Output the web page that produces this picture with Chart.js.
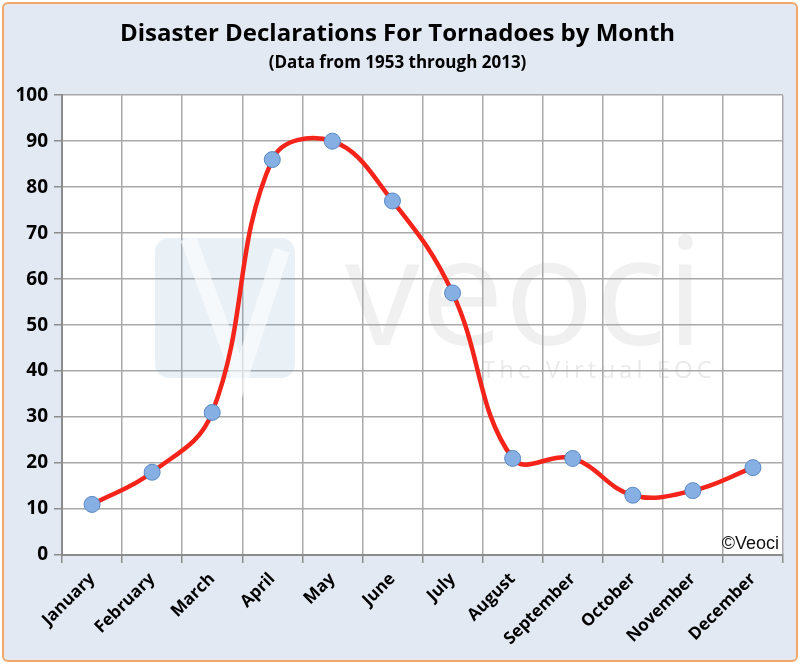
<!DOCTYPE html>
<html>
<head>
<meta charset="utf-8">
<script src="https://cdn.jsdelivr.net/npm/chart.js@4/dist/chart.umd.min.js"></script>
<style>
    html, body { margin: 0; padding: 0; background: #ffffff; }
    #wrap {
        position: absolute; left: 2px; top: 2px; width: 792px; height: 656px;
        background: #e2e9f3; border: 2px solid #f3a468; border-radius: 6px;
    }
    canvas { position: absolute; left: -4px; top: -4px; }
</style>
</head>
<body>
<div id="wrap"><canvas id="chart" width="800" height="664"></canvas></div>
<script>
var months = ["January", "February", "March", "April", "May", "June",
              "July", "August", "September", "October", "November", "December"];
var declarations = [11, 18, 31, 86, 90, 77, 57, 21, 21, 13, 14, 19];
var yTicks = [0, 10, 20, 30, 40, 50, 60, 70, 80, 90, 100];

var titleText = "Disaster Declarations For Tornadoes by Month";
var subtitleText = "(Data from 1953 through 2013)";

// white plot area, watermark and copyright text
var plotDecor = {
    id: 'plotDecor',
    beforeDatasetsDraw: function(chart) {
        var ctx = chart.ctx;
        ctx.save();
        // faint logo box
        ctx.fillStyle = "rgba(120,160,200,0.16)";
        ctx.beginPath();
        ctx.roundRect(155, 238, 140, 140, 14);
        ctx.fill();
        ctx.strokeStyle = "rgba(255,255,255,0.6)";
        ctx.lineWidth = 16;
        ctx.beginPath();
        ctx.moveTo(188, 238);
        ctx.lineTo(240, 378);
        ctx.lineTo(282, 250);
        ctx.stroke();
        ctx.fillStyle = "rgba(170,170,170,0.18)";
        ctx.font = "150px 'Open Sans'";
        ctx.textBaseline = "alphabetic";
        ctx.fillText("veoci", 345, 345);
        ctx.font = "24px 'Open Sans'";
        ctx.letterSpacing = "4px";
        ctx.fillStyle = "rgba(170,170,170,0.25)";
        ctx.fillText("The Virtual EOC", 482, 378);
        ctx.restore();
    },
    beforeDraw: function(chart) {
        var a = chart.chartArea;
        var ctx = chart.ctx;
        ctx.save();
        ctx.fillStyle = "#ffffff";
        ctx.fillRect(a.left, a.top, a.right - a.left, a.bottom - a.top);
        ctx.restore();
    },
    afterDraw: function(chart) {
        var a = chart.chartArea;
        var ctx = chart.ctx;
        ctx.save();
        ctx.fillStyle = "#111111";
        ctx.font = "18px 'Liberation Sans'";
        ctx.textAlign = "right";
        ctx.textBaseline = "bottom";
        ctx.fillText("\u00A9Veoci", a.right - 4, a.bottom - 2);
        ctx.restore();
    }
};

var chartObject = document.getElementById("chart").getContext("2d");

new Chart(chartObject, {
    type: 'line',
    data: {
        labels: months,
        datasets: [
            {
                label: "Declarations",
                data: declarations,
                borderColor: "#f5241a",
                borderWidth: 4.5,
                tension: 0.4,
                fill: false,
                pointRadius: 8,
                pointBackgroundColor: "#86b0e4",
                pointBorderColor: "#5b89c4",
                pointBorderWidth: 1
            }
        ]
    },
    options: {
        responsive: false,
        animation: false,
        layout: { padding: { left: 12, right: 17, top: 0, bottom: 0 } },
        plugins: {
            legend: { display: false },
            tooltip: { enabled: false },
            title: {
                display: true,
                text: titleText,
                color: "#000000",
                font: { family: "'Open Sans'", size: 24, weight: 'bold' },
                padding: { top: 20, bottom: 4 }
            },
            subtitle: {
                display: true,
                text: subtitleText,
                color: "#000000",
                font: { family: "'Open Sans'", size: 17, weight: 'bold' },
                padding: { top: 0, bottom: 22 }
            }
        },
        scales: {
            x: {
                offset: true,
                grid: {
                    offset: true,
                    color: "#a9a9a9",
                    lineWidth: 1.5,
                    tickLength: 8,
                    tickColor: "#8c8c8c"
                },
                border: { color: "#8c8c8c", width: 2 },
                ticks: {
                    color: "#000000",
                    maxRotation: 45,
                    minRotation: 45,
                    padding: 6,
                    font: { family: "'Open Sans'", size: 17, weight: 'bold' }
                },
                afterFit: function(scale) { scale.height = 109; }
            },
            y: {
                min: 0,
                max: 100,
                afterBuildTicks: function(scale) {
                    scale.ticks = yTicks.map(function(v) { return { value: v }; });
                },
                grid: {
                    color: "#a9a9a9",
                    lineWidth: 1.5,
                    tickLength: 8,
                    tickColor: "#8c8c8c"
                },
                border: { color: "#8c8c8c", width: 2 },
                ticks: {
                    color: "#000000",
                    padding: 6,
                    font: { family: "'Open Sans'", size: 19, weight: 'bold' }
                },
                afterFit: function(scale) { scale.width = 50; }
            }
        }
    },
    plugins: [plotDecor]
});
</script>
</body>
</html>
